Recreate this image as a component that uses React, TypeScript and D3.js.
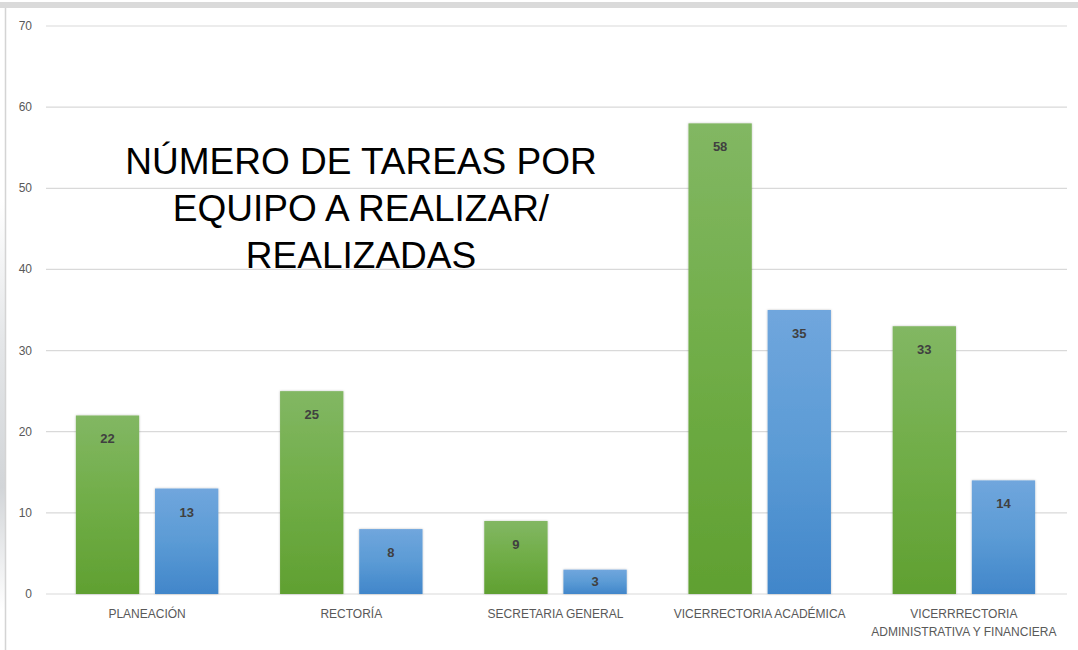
import React from "react";
import * as d3 from "d3";

const categories = [
  "PLANEACIÓN",
  "RECTORÍA",
  "SECRETARIA GENERAL",
  "VICERRECTORIA ACADÉMICA",
  "VICERRRECTORIA ADMINISTRATIVA Y FINANCIERA",
];
const categoryLines = [
  ["PLANEACIÓN"],
  ["RECTORÍA"],
  ["SECRETARIA GENERAL"],
  ["VICERRECTORIA ACADÉMICA"],
  ["VICERRRECTORIA", "ADMINISTRATIVA Y FINANCIERA"],
];
const seriesNames = ["A realizar", "Realizadas"];
const aRealizar = [22, 25, 9, 58, 33];
const realizadas = [13, 8, 3, 35, 14];
const yTicks = [0, 10, 20, 30, 40, 50, 60, 70];
const titleLines = ["NÚMERO DE TAREAS POR", "EQUIPO A REALIZAR/", "REALIZADAS"];

const W = 1078;
const H = 650;

export default function App() {
  const x0 = d3.scaleBand<string>().domain(categories).range([45, 1066]).paddingInner(0).paddingOuter(0);
  const x1 = d3
    .scaleBand<string>()
    .domain(seriesNames)
    .range([0, x0.bandwidth()])
    .paddingInner(0.2)
    .paddingOuter(0.39);
  const y = d3.scaleLinear().domain([0, 70]).range([594, 26]);
  const series = [aRealizar, realizadas];
  const fills = ["url(#gGreen)", "url(#gBlue)"];
  const axisFont = "'Liberation Sans', Arial, sans-serif";

  return (
    <svg
      width={W}
      height={H}
      style={{ position: "absolute", left: 0, top: 0, background: "#fff" }}
      fontFamily={axisFont}
    >
      <defs>
        <linearGradient id="gGreen" x1="0" y1="0" x2="0" y2="1">
          <stop offset="0%" stopColor="#82b763" />
          <stop offset="50%" stopColor="#70ad47" />
          <stop offset="100%" stopColor="#60a031" />
        </linearGradient>
        <linearGradient id="gBlue" x1="0" y1="0" x2="0" y2="1">
          <stop offset="0%" stopColor="#70a6dd" />
          <stop offset="50%" stopColor="#5b9bd5" />
          <stop offset="100%" stopColor="#4186ca" />
        </linearGradient>
        <linearGradient id="gSide" x1="0" y1="0" x2="0" y2="1">
          <stop offset="0%" stopColor="#ffffff" />
          <stop offset="35%" stopColor="#e4e6e8" />
          <stop offset="70%" stopColor="#d2d5d8" />
          <stop offset="100%" stopColor="#ffffff" />
        </linearGradient>
        <filter id="shadow" x="-10%" y="-10%" width="120%" height="120%">
          <feDropShadow dx="0" dy="0" stdDeviation="1" floodColor="#000" floodOpacity="0.25" />
        </filter>
      </defs>
      <rect x={0} y={0} width={W} height={H} fill="#fff" />
      <rect x={0} y={2} width={W} height={6} fill="#dadada" />
      <rect x={0} y={200} width={5} height={410} fill="url(#gSide)" />
      <line x1={5.5} x2={5.5} y1={8} y2={H} stroke="#d4d4d4" strokeWidth={1.5} />

      {yTicks.map((t) => (
        <g key={t}>
          <line x1={46} x2={1067} y1={y(t)} y2={y(t)} stroke="#d9d9d9" strokeWidth={1.2} />
          <text x={32} y={y(t) + 4} textAnchor="end" fontSize={12} fill="#595959">
            {t}
          </text>
        </g>
      ))}

      {categories.map((c, i) => (
        <g key={c} transform={`translate(${x0(c)},0)`}>
          {series.map((vals, si) => {
            const bx = x1(seriesNames[si])!;
            const bw = x1.bandwidth();
            const top = y(vals[i]);
            const labelY = Math.min(top + 28, (top + y(0)) / 2 + 4.5);
            return (
              <g key={si}>
                <rect
                  x={bx}
                  y={top}
                  width={bw}
                  height={y(0) - top}
                  fill={fills[si]}
                  filter="url(#shadow)"
                />
                <text
                  x={bx + bw / 2}
                  y={labelY}
                  textAnchor="middle"
                  fontSize={13}
                  fontWeight="bold"
                  fill="#404040"
                >
                  {vals[i]}
                </text>
              </g>
            );
          })}
          {categoryLines[i].map((ln, li) => (
            <text
              key={li}
              x={x0.bandwidth() / 2}
              y={618 + li * 18}
              textAnchor="middle"
              fontSize={12}
              fill="#595959"
            >
              {ln}
            </text>
          ))}
        </g>
      ))}

      {titleLines.map((t, i) => (
        <text
          key={i}
          x={361}
          y={174 + i * 47}
          textAnchor="middle"
          fontSize={37}
          fill="#000"
          fontFamily={axisFont}
        >
          {t}
        </text>
      ))}
    </svg>
  );
}
